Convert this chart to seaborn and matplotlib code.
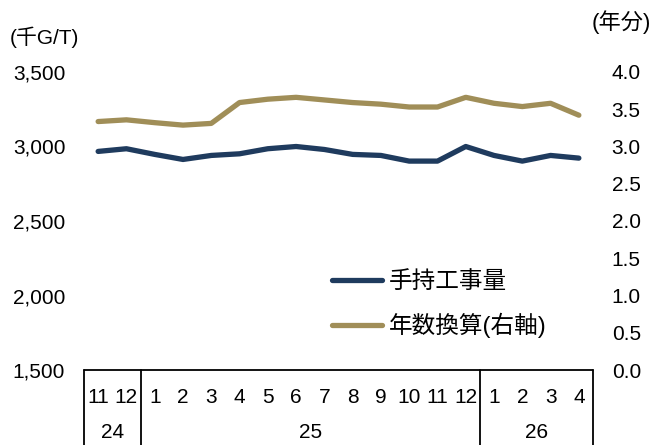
import matplotlib
matplotlib.use("Agg")
import matplotlib.pyplot as plt
import matplotlib.transforms as mtransforms
import seaborn as sns
import pandas as pd
import numpy as np

months = ["11", "12", "1", "2", "3", "4", "5", "6", "7", "8", "9", "10", "11", "12", "1", "2", "3", "4"]
years = ["24", "25", "26"]
year_counts = [2, 12, 4]
backlog = [2967, 2985, 2947, 2913, 2940, 2951, 2985, 3000, 2980, 2947, 2940, 2902, 2902, 3000, 2940, 2902, 2940, 2922]
years_equiv = [3.335, 3.358, 3.32, 3.287, 3.31, 3.59, 3.635, 3.66, 3.625, 3.59, 3.568, 3.53, 3.53, 3.66, 3.58, 3.536, 3.58, 3.42]
series_names = ["手持工事量", "年数換算(右軸)"]
left_ticks = [1500, 2000, 2500, 3000, 3500]
right_ticks = [0.0, 0.5, 1.0, 1.5, 2.0, 2.5, 3.0, 3.5, 4.0]

NAVY = "#1F3B5E"
GOLD = "#A08E58"

sns.set_theme(style="white")
plt.rcParams["font.family"] = ["Liberation Sans", "Noto Sans CJK JP", "DejaVu Sans"]

FS = 15
W, H = 651, 445
fig = plt.figure(figsize=(W / 100, H / 100), dpi=100)
fig.patch.set_facecolor("white")
x0, x1, ytop, ybot = 84, 593, 72, 370
ax = fig.add_axes([x0 / W, 1 - ybot / H, (x1 - x0) / W, (ybot - ytop) / H])

df = pd.DataFrame({"x": np.arange(len(months)), "backlog": backlog, "years": years_equiv})

sns.lineplot(data=df, x="x", y="backlog", ax=ax, color=NAVY, linewidth=3.8,
             label=series_names[0], legend=False, solid_capstyle="round")
ax2 = ax.twinx()
sns.lineplot(data=df, x="x", y="years", ax=ax2, color=GOLD, linewidth=3.8,
             label=series_names[1], legend=False, solid_capstyle="round")

ax.set_xlim(-0.5, len(months) - 0.5)
ax.set_ylim(1500, 3500)
ax2.set_ylim(0, 4.0)
ax.set_yticks(left_ticks)
ax.set_yticklabels([f"{v:,}" for v in left_ticks], fontsize=FS)
ax2.set_yticks(right_ticks)
ax2.set_yticklabels([f"{v:.1f}" for v in right_ticks], fontsize=FS)
ax.set_xticks(range(len(months)))
ax.set_xticklabels(months, fontsize=FS)
ax.tick_params(axis="x", length=0, pad=13)
ax.tick_params(axis="y", length=0, pad=13.5)
ax2.tick_params(axis="y", length=0, pad=13.5)
ax.set_xlabel("")
ax.set_ylabel("")
ax2.set_ylabel("")
ax.grid(False)
ax2.grid(False)

for a in (ax, ax2):
    for s in ["top", "left", "right", "bottom"]:
        a.spines[s].set_visible(False)

for t in ax.get_yticklabels() + ax2.get_yticklabels() + ax.get_xticklabels():
    t.set_color("black")

# category box lines
trans = mtransforms.blended_transform_factory(ax.transData, ax.transAxes)
ax.plot([-0.5, len(months) - 0.5], [0, 0], transform=trans, color="black", lw=1.3, clip_on=False)
bounds = np.cumsum([0] + year_counts) - 0.5
for b in bounds:
    ax.plot([b, b], [0, -0.35], transform=trans, color="black", lw=1.3, clip_on=False)
for i, yl in enumerate(years):
    c = (bounds[i] + bounds[i + 1]) / 2
    ax.text(c, -(433 - 370) / (ybot - ytop), yl, transform=trans, ha="center", va="center",
            fontsize=FS, color="black")

# unit labels
fig.text(10 / W, 1 - 37 / H, "(千G/T)", ha="left", va="center", fontsize=FS, color="black")
fig.text(651 / W, 1 - 22 / H, "(年分)", ha="right", va="center", fontsize=16, color="black")

h1, l1 = ax.get_legend_handles_labels()
h2, l2 = ax2.get_legend_handles_labels()
leg = ax.legend(h1 + h2, l1 + l2, loc="upper left", bbox_to_anchor=(332 / W, 1 - 271 / H),
                bbox_transform=fig.transFigure, frameon=False, fontsize=17,
                handlelength=2.1, handletextpad=0.3, labelspacing=0.85, borderpad=0, borderaxespad=0)
for t in leg.get_texts():
    t.set_color("black")

fig.savefig("out.png", dpi=100, facecolor="white")
